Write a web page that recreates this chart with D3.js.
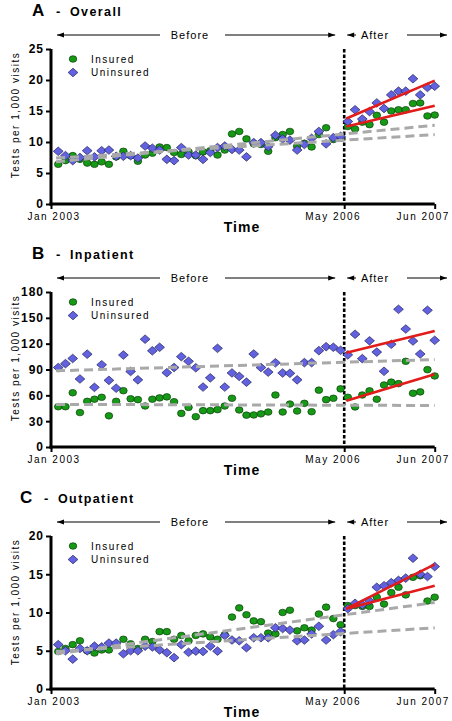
<!DOCTYPE html>
<html><head><meta charset="utf-8">
<script src="https://cdn.jsdelivr.net/npm/d3@7"></script>
<style>body{margin:0;background:#fff} svg{display:block;font-family:"Liberation Sans",Arial,sans-serif}</style>
</head><body>
<svg id="c" width="452" height="721"></svg>
<script>
// ---------- DATA ----------
const xTickIdx = [-1, 39.5, 52];
const xTickLabels = ["Jan 2003", "May 2006", "Jun 2007"];
const panelLetters = ["A", "B", "C"];
const panelNames = ["Overall", "Inpatient", "Outpatient"];
const seriesNames = ["Insured", "Uninsured"];
const yTicksA = [0, 5, 10, 15, 20, 25];
const yTicksB = [0, 30, 60, 90, 120, 150, 180];
const yTicksC = [0, 5, 10, 15, 20];
const preTrendIdx = [-0.3, 52];
const postTrendIdx = [39.8, 52];

const A_insured = [6.4,7.0,7.8,7.2,6.6,6.4,6.8,6.4,7.6,8.5,7.8,6.9,7.9,8.2,9.2,9.1,8.3,8.0,8.4,7.8,8.4,8.6,7.9,8.7,11.3,11.7,10.5,9.7,9.6,8.5,10.7,11.2,11.7,9.3,9.8,9.2,11.2,12.3,10.4,10.6,12.5,12.1,13.2,12.8,14.3,13.2,15.0,15.2,15.2,16.2,16.3,14.2,14.35];
const A_uninsured = [8.5,7.8,7.0,7.5,8.6,7.6,8.6,8.7,7.7,7.7,7.8,7.4,9.35,9.0,8.7,7.2,7.0,9.1,7.9,7.9,7.2,8.3,9.1,9.35,8.8,8.7,7.6,9.9,9.9,9.25,11.1,10.5,10.3,8.7,9.6,10.6,11.7,9.7,10.7,10.9,13.3,15.2,13.7,14.9,16.3,15.4,17.6,18.2,18.2,20.2,17.6,18.8,19.0];
const A_preIns = [6.8, 12.7], A_preUnins = [7.4, 11.2];
const A_postIns = [12.5, 15.85], A_postUnins = [13.8, 19.9];

const B_insured = [46.8,46.8,63,40,53,55.5,57.7,36.2,53,65.4,56,55,47.6,55.5,57,58.2,52.6,39,46,35.2,42.2,42.2,43.4,47.6,56.6,43,37,37.2,38.5,40.6,60.4,40.6,49.9,41.8,50.7,41,66,55,56.6,67.5,57.7,46.5,60.4,65.2,55.5,72,75.3,73.6,99.5,62.4,64,89.8,82.5];
const B_uninsured = [92.3,96.8,102.8,79,107.8,69.3,95.5,77.4,68.3,106.8,87.7,78,125.2,111.7,115.8,86.3,92.3,104.9,99.5,92,69.6,80.3,114.6,69.6,86,82,75.3,108,92.3,87,97.8,85.9,85.6,78,98,98,111.9,116.5,115.8,112.3,107,130.9,102.6,123.3,110.2,87.9,119.3,159.9,137,123.1,108,158.8,123.9];
const B_preIns = [49.5, 48.2], B_preUnins = [88.5, 101.5];
const B_postIns = [53.8, 84.4], B_postUnins = [109.5, 134.7];

const C_insured = [4.9,5.3,5.8,6.3,5.0,4.7,5.1,5.1,5.8,6.5,5.9,5.3,6.5,6.2,7.5,7.5,6.5,7.0,6.3,7.0,7.2,6.8,6.5,7.1,9.4,10.6,9.7,8.9,8.8,7.3,7.2,10.0,10.3,7.6,8.0,7.7,9.8,10.7,9.2,8.4,10.9,10.9,10.8,10.8,12.0,11.1,12.6,13.3,12.3,14.6,14.8,11.5,12.0];
const C_uninsured = [5.8,5.0,3.9,5.3,5.0,5.6,5.5,6.0,6.0,4.6,5.0,5.0,5.6,5.5,5.1,4.75,4.1,5.8,4.8,4.95,4.9,5.6,4.95,7.0,6.4,6.3,5.4,6.7,6.7,6.7,8.0,7.9,7.7,6.3,6.4,7.2,8.2,6.4,7.1,7.5,10.5,11.2,11.0,11.5,13.3,13.5,13.9,14.2,14.5,17.1,15.0,14.7,16.0];
const C_preIns = [4.6, 11.3], C_preUnins = [4.9, 8.0];
const C_postIns = [10.5, 13.5], C_postUnins = [10.5, 16.3];

// ---------- LAYOUT ----------
const panels = [
  {top:49,  h:155, titleX:32, ticks:yTicksA, ins:A_insured, un:A_uninsured, preI:A_preIns, preU:A_preUnins, postI:A_postIns, postU:A_postUnins},
  {top:292, h:155, titleX:32, ticks:yTicksB, ins:B_insured, un:B_uninsured, preI:B_preIns, preU:B_preUnins, postI:B_postIns, postU:B_postUnins},
  {top:536, h:153, titleX:20, ticks:yTicksC, ins:C_insured, un:C_uninsured, preI:C_preIns, preU:C_preUnins, postI:C_postIns, postU:C_postUnins}
];
const GREEN = "#169a16", BLUE = "#6262e0", RED = "#e21b1b", GRAY = "#a9a9a9";
const tickLabelDx = [2.5, -11.5, -12];

const svg = d3.select("#c");
const x = d3.scaleLinear().domain([-1, 52]).range([51, 434.7]);
const diamond = "M0,-4.3L4.9,0L0,4.3L-4.9,0Z";

function arrow(g, x1, x2, y) {
  g.append("line").attr("x1", x1).attr("x2", x2).attr("y1", y).attr("y2", y)
    .attr("stroke", "#000").attr("stroke-width", 1);
}
function head(g, xt, y, dir) {
  g.append("path").attr("d", `M${xt},${y}L${xt - dir*7},${y-2.5}L${xt - dir*7},${y+2.5}Z`).attr("fill", "#000");
}

panels.forEach((p, i) => {
  const g = svg.append("g");
  const bottom = p.top + p.h;
  const yMax = p.ticks[p.ticks.length - 1];
  const y = d3.scaleLinear().domain([0, yMax]).range([bottom, p.top]);

  // title
  const tY = p.top - 33;
  g.append("text").attr("x", p.titleX).attr("y", tY).attr("font-size", 17).attr("font-weight", "bold").text(panelLetters[i]);
  g.append("text").attr("x", p.titleX + 24).attr("y", tY).attr("font-size", 13).attr("font-weight", "bold").text("-");
  g.append("text").attr("x", p.titleX + 38).attr("y", tY).attr("font-size", 12.5).attr("font-weight", "bold")
    .attr("letter-spacing", 1.4).text(panelNames[i]);

  // before / after
  const bY = p.top - 14;
  const xLine = x(39.5);
  arrow(g, x(-1) + 6, 160, bY); head(g, x(-1) + 6, bY, -1);
  arrow(g, 225, xLine - 9, bY); head(g, xLine - 9, bY, 1);
  g.append("text").attr("x", 190).attr("y", bY + 4).attr("text-anchor", "middle").attr("font-size", 11)
    .attr("letter-spacing", 1).text("Before");
  arrow(g, xLine + 3, 356, bY); head(g, xLine + 3, bY, -1);
  g.append("text").attr("x", 375).attr("y", bY + 4).attr("text-anchor", "middle").attr("font-size", 11)
    .attr("letter-spacing", 1).text("After");
  arrow(g, 407, 447, bY); head(g, 447, bY, 1);

  // y axis
  const ya = g.append("g").attr("transform", `translate(${x(-1)},0)`)
    .call(d3.axisLeft(y).tickValues(p.ticks).tickSize(5).tickSizeOuter(0).tickPadding(3));
  ya.select(".domain").attr("stroke-width", 3).attr("d", `M0,${p.top}V${bottom + 1.5}`);
  ya.selectAll(".tick line").attr("stroke-width", 2);
  ya.selectAll(".tick text").attr("font-size", 12).attr("font-weight", "bold").attr("fill", "#000")
    .attr("font-family", "Liberation Sans, Arial, sans-serif").attr("letter-spacing", 1).attr("dx", 1);

  // x axis
  const xa = g.append("g").attr("transform", `translate(0,${bottom})`)
    .call(d3.axisBottom(x).tickValues(xTickIdx).tickSize(5).tickSizeOuter(0).tickFormat((d, k) => xTickLabels[k]));
  xa.select(".domain").attr("stroke-width", 3).attr("d", `M${x(-1) - 1.5},0H${x(52)}`);
  xa.selectAll(".tick line").attr("stroke-width", 2);
  xa.selectAll(".tick text").attr("font-size", 10).attr("fill", "#000").attr("letter-spacing", 1.5)
    .attr("font-family", "Liberation Sans, Arial, sans-serif")
    .attr("dy", null).attr("y", 16).attr("dx", (d, k) => tickLabelDx[k]);

  g.append("text").attr("x", 242).attr("y", bottom + 28).attr("text-anchor", "middle")
    .attr("font-size", 14).attr("font-weight", "bold").attr("letter-spacing", 1).text("Time");

  // y label
  g.append("text").attr("transform", `translate(19,${p.top + 66}) rotate(-90)`).attr("text-anchor", "middle")
    .attr("font-size", 10).attr("letter-spacing", 1.5).text("Tests per 1,000 visits");

  // dotted divider
  g.append("line").attr("x1", xLine).attr("x2", xLine).attr("y1", p.top).attr("y2", bottom)
    .attr("stroke", "#000").attr("stroke-width", 2.6).attr("stroke-dasharray", "3.5,2");

  // points
  g.append("g").selectAll("ellipse").data(p.ins).join("ellipse")
    .attr("cx", (d, k) => x(k)).attr("cy", d => y(d)).attr("rx", 3.8).attr("ry", 3.3)
    .attr("fill", GREEN).attr("stroke", "#0b3d0b").attr("stroke-width", 0.7);
  g.append("g").selectAll("path").data(p.un).join("path")
    .attr("transform", (d, k) => `translate(${x(k)},${y(d)})`).attr("d", diamond)
    .attr("fill", BLUE).attr("stroke", "#23235a").attr("stroke-width", 0.7);

  // trend lines
  const line = d3.line().x(d => x(d[0])).y(d => y(d[1]));
  [p.preI, p.preU].forEach(t => {
    g.append("path").attr("d", line(preTrendIdx.map((ix, k) => [ix, t[k]])))
      .attr("stroke", GRAY).attr("stroke-width", 3).attr("stroke-dasharray", "9,5").attr("fill", "none");
  });
  [p.postI, p.postU].forEach(t => {
    g.append("path").attr("d", line(postTrendIdx.map((ix, k) => [ix, t[k]])))
      .attr("stroke", RED).attr("stroke-width", 2.6).attr("fill", "none");
  });

  // legend
  const lx = 73;
  g.append("ellipse").attr("cx", lx).attr("cy", p.top + 10).attr("rx", 3.8).attr("ry", 3.3)
    .attr("fill", GREEN).attr("stroke", "#0b3d0b").attr("stroke-width", 0.7);
  g.append("path").attr("transform", `translate(${lx},${p.top + 23.5})`).attr("d", diamond)
    .attr("fill", BLUE).attr("stroke", "#23235a").attr("stroke-width", 0.7);
  seriesNames.forEach((s, k) => {
    g.append("text").attr("x", 91).attr("y", p.top + 13.5 + k * 13.5).attr("font-size", 10)
      .attr("letter-spacing", 1.5).text(s);
  });
});
</script>
</body></html>
